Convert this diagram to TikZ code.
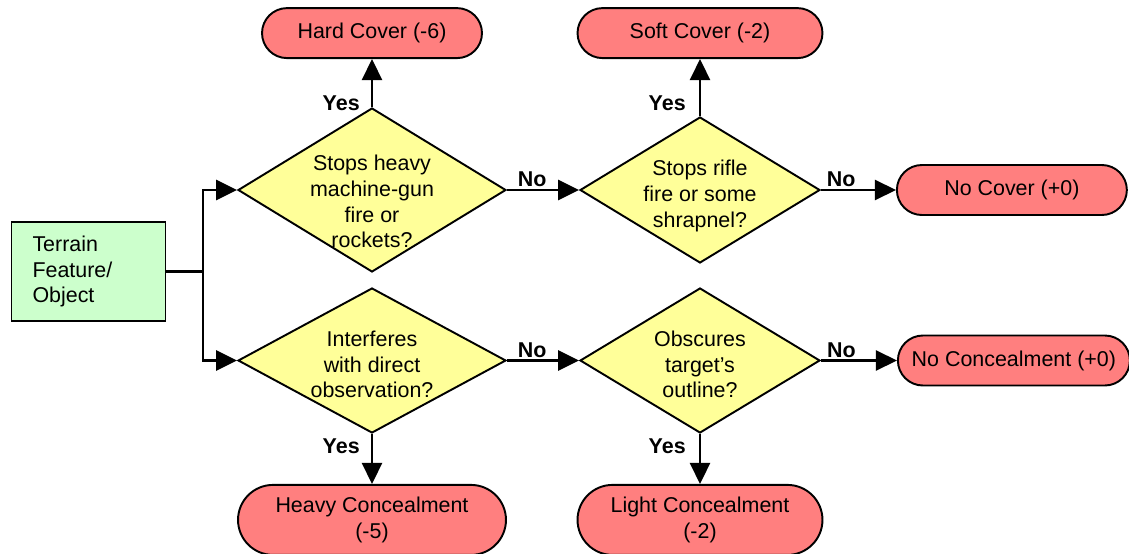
\documentclass[tikz,border=0pt]{standalone}
\usepackage{fontspec}
\setmainfont{Liberation Sans}
\usetikzlibrary{positioning,arrows.meta,shapes.geometric,shapes.misc}
\definecolor{endred}{HTML}{FF7F7F}
\definecolor{askyellow}{HTML}{FFFF99}
\definecolor{startgreen}{HTML}{CCFFCC}
\newcommand{\diagfont}{\fontsize{12.2}{14.7}\selectfont}
% text of a diamond, kept out of the size of the shape
\newcommand{\qtext}[2][-6.7pt]{\raisebox{#1}[0pt][0pt]{\makebox[0pt]{\begin{tabular}{@{}c@{}}#2\end{tabular}}}}
\tikzset{
>={Triangle[length=0.42cm,width=0.4cm]},
  myline/.style={draw, line width=1.5pt},
  myarrow/.style={draw, line width=1.5pt, ->},
  answer/.style={font=\diagfont\bfseries, inner sep=0pt},
}

\begin{document}
\begin{tikzpicture}[x=0.02cm,y=-0.02cm]
    \tikzset{
        every node/.style={font=\diagfont},
        input/.style={rectangle, draw=black, fill=startgreen, line width=1.1pt, text width=2.24cm, inner xsep=0.42cm, minimum height=1.98cm, align=left},
        condition/.style={diamond, draw=black, fill=askyellow, line width=1.1pt, inner sep=0pt},
        result/.style={rounded rectangle, draw=black, fill=endred, line width=1.1pt, minimum height=1cm, inner sep=0pt, align=center},
    }
    \useasboundingbox (0,0) rectangle (1129,554);

    \node[input] (item1) at (88.5,271.5) {Terrain\\Feature/\\Object};

    \node[condition, minimum width=5.36cm, minimum height=3.28cm] (item2) at (372,190) {\qtext[-11pt]{Stops heavy\\machine-gun\\fire or\\rockets?}};
    \node[condition, minimum width=4.8cm, minimum height=2.92cm] (item3) at (700,190) {\qtext{Stops rifle\\fire or some\\shrapnel?}};
    \node[condition, minimum width=5.36cm, minimum height=2.9cm] (item4) at (372,360.5) {\qtext{Interferes\\with direct\\observation?}};
    \node[condition, minimum width=4.8cm, minimum height=2.9cm] (item5) at (700,360.5) {\qtext{Obscures\\target's\\outline?}};

    \node[result, minimum width=4.4cm, above=0.96cm of item2] (item6) {Hard Cover (-6)};
    \node[result, minimum width=4.9cm, above=1.14cm of item3] (item7) {Soft Cover (-2)};
    \node[result, minimum width=4.6cm, right=1.5cm of item3] (item8) {No Cover (+0)};
    \node[result, minimum width=5.36cm, minimum height=1.4cm, below=1cm of item4] (item9) {Heavy Concealment\\(-5)};
    \node[result, minimum width=4.9cm, minimum height=1.4cm, below=1cm of item5] (item10) {Light Concealment\\(-2)};
    \node[result, minimum width=4.64cm, right=1.52cm of item5] (item11) {No Concealment (+0)};

    \coordinate (AuxNode01) at (203,271.5);

    \path[myline] (item1.east) -- (AuxNode01);
    \path[myarrow] (AuxNode01) |- (item2.west);
    \path[myarrow] (AuxNode01) |- (item4.west);
    \path[myarrow] (item2.north) -- node[answer, left=0.22cm, pos=0.07] {Yes} (item6.south);
    \path[myarrow] (item3.north) -- node[answer, left=0.26cm, pos=0.22] {Yes} (item7.south);
    \path[myarrow] (item2.east) -- node[answer, above=1pt, pos=0.35] {No} (item3.west);
    \path[myarrow] (item3.east) -- node[answer, above=1pt, pos=0.27] {No} (item8.west);
    \path[myarrow] (item4.south) -- node[answer, left=0.22cm, pos=0.24] {Yes} (item9.north);
    \path[myarrow] (item5.south) -- node[answer, left=0.26cm, pos=0.24] {Yes} (item10.north);
    \path[myarrow] (item4.east) -- node[answer, above=1pt, pos=0.35] {No} (item5.west);
    \path[myarrow] (item5.east) -- node[answer, above=1pt, pos=0.27] {No} (item11.west);
\end{tikzpicture}
\end{document}
